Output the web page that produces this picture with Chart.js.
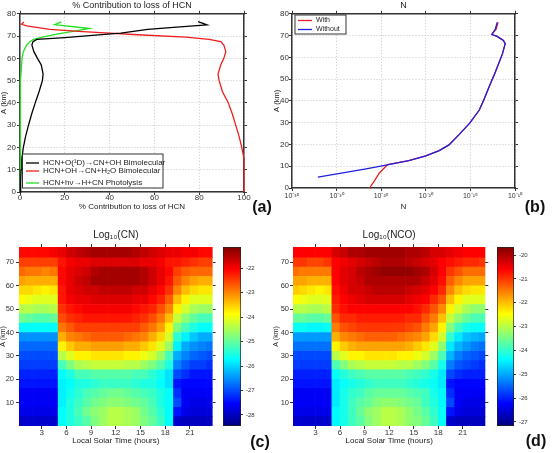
<!DOCTYPE html>
<html>
<head>
<meta charset="utf-8">
<script src="https://cdn.jsdelivr.net/npm/chart.js@4.4.1/dist/chart.umd.min.js"></script>
<style>
  html, body { margin: 0; padding: 0; background: #fff; }
  #wrap { position: relative; width: 553px; height: 453px; overflow: hidden; }
  #wrap canvas { position: absolute; left: 0; top: 0; }
  .tag { position: absolute; transform: translate(-50%, -50%); font: bold 16px "Liberation Sans", Arial, sans-serif; color: #111; }
</style>
</head>
<body>
<div id="wrap">
  <canvas id="chartA" width="553" height="453"></canvas>
  <canvas id="chartB" width="553" height="453"></canvas>
  <canvas id="chartC" width="553" height="453"></canvas>
  <canvas id="barC" width="553" height="453"></canvas>
  <canvas id="chartD" width="553" height="453"></canvas>
  <canvas id="barD" width="553" height="453"></canvas>
  <div class="tag" style="left:262px;top:207px">(a)</div>
  <div class="tag" style="left:535px;top:207px">(b)</div>
  <div class="tag" style="left:260px;top:442px">(c)</div>
  <div class="tag" style="left:536px;top:441px">(d)</div>
</div>
<script>
// (a) % contribution to loss of HCN, by altitude (km)
const o1dAlt = [0, 5, 10, 15, 20, 25, 30, 35, 40, 45, 50, 53, 57, 60, 63, 66, 67.5, 68.5, 69.3, 70.5, 71.3, 73, 74, 75, 76.5];
const o1dPct = [0, 0.3, 0.5, 0.8, 1.5, 2.5, 3.8, 5.2, 6.8, 8.5, 10, 10.3, 9.5, 7.8, 6.2, 5.3, 5.8, 7.5, 20, 35, 45, 57, 70, 83.5, 79.5];
const ohAlt = [0, 5, 10, 15, 20, 25, 30, 35, 40, 45, 50, 53, 57, 60, 63, 66, 67.5, 68.5, 69.5, 70.7, 71.3, 72, 73, 74.6, 75.3, 76.3];
const ohPct = [100, 100, 100, 100, 99, 97.8, 96.3, 94.8, 93, 90.4, 88.9, 88.4, 89.6, 91, 91.9, 91, 89.6, 84.4, 74, 50.4, 40, 28, 13.3, 3, 0.7, 1.8];
const hvAlt = [0, 10, 20, 30, 40, 50, 55, 60, 63, 66, 67.5, 68.5, 69.5, 71, 72.3, 73.4, 75.1, 76.4];
const hvPct = [0, 0, 0, 0.1, 0.2, 0.4, 0.6, 0.9, 1.5, 3, 4.4, 6, 10, 17, 25, 31, 15.5, 18.5];

// (b) N, read as log10(N), by altitude (km)
const withAlt = [0, 3, 6.9, 9.9, 10.7, 12.6, 14.8, 17.2, 19.8, 24.4, 29.7, 35.8, 40.4, 46.5, 53.3, 61.7, 66.3, 67.8, 69.6, 70.5, 73, 76.2];
const withLogN = [-26.3, -25.8, -25.2, -24.5, -24.3, -21.9, -20.0, -18.5, -17.4, -16.3, -15.1, -14.0, -13.5, -12.9, -12.2, -11.4, -11.1, -11.3, -12.0, -12.6, -12.1, -11.9];
const withoutAlt = [5, 6.9, 8.8, 10.2, 12.6, 14.8, 17.2, 19.8, 24.4, 29.7, 35.8, 40.4, 46.5, 53.3, 61.7, 66.3, 67.8, 69.6, 70.5, 73, 76];
const withoutLogN = [-32.1, -29.3, -26.7, -24.9, -21.9, -20.0, -18.5, -17.4, -16.3, -15.1, -14.0, -13.5, -12.9, -12.2, -11.4, -11.1, -11.3, -12.0, -12.6, -12.2, -12.0];

// (c), (d) log10 concentration by local hour (columns) and altitude band (rows, from the ground up)
const hours = [0.5, 1.5, 2.5, 3.5, 4.5, 5.5, 6.5, 7.5, 8.5, 9.5, 10.5, 11.5, 12.5, 13.5, 14.5, 15.5, 16.5, 17.5, 18.5, 19.5, 20.5, 21.5, 22.5, 23.5];
const altEdges = [0, 4, 8, 12, 16, 20, 24, 28, 32, 36, 40, 44, 48, 52, 56, 60, 64, 68, 72, 77];
const cnLog = [
  [-27.9,-27.9,-27.9,-27.9,-27.9,-25.7,-25.5,-25.3,-25.1,-24.8,-24.6,-24.4,-24.4,-24.5,-24.6,-24.8,-25.0,-25.3,-25.7,-27.9,-28.0,-28.0,-28.0,-28.0],
  [-27.7,-27.7,-27.7,-27.7,-27.7,-25.7,-25.5,-25.2,-24.9,-24.7,-24.6,-24.4,-24.4,-24.5,-24.6,-24.9,-25.1,-25.4,-25.7,-27.4,-27.7,-27.8,-27.8,-27.8],
  [-27.6,-27.6,-27.6,-27.6,-27.6,-25.8,-25.5,-25.3,-25.1,-24.9,-24.8,-24.7,-24.7,-24.8,-24.9,-25.0,-25.2,-25.5,-25.7,-27.0,-27.6,-27.7,-27.7,-27.7],
  [-27.6,-27.6,-27.6,-27.6,-27.6,-25.8,-25.6,-25.4,-25.2,-25.1,-25.0,-24.9,-24.9,-25.0,-25.1,-25.2,-25.3,-25.5,-25.7,-27.2,-27.6,-27.6,-27.6,-27.6],
  [-27.4,-27.4,-27.4,-27.4,-27.4,-25.8,-25.7,-25.5,-25.5,-25.4,-25.3,-25.3,-25.3,-25.3,-25.4,-25.5,-25.5,-25.7,-25.9,-27.4,-27.5,-27.5,-27.5,-27.5],
  [-27.3,-27.3,-27.3,-27.3,-27.3,-25.7,-25.5,-25.2,-25.2,-25.1,-25.1,-25.1,-25.1,-25.1,-25.2,-25.2,-25.4,-25.6,-25.9,-27.0,-27.2,-27.4,-27.4,-27.4],
  [-27.1,-27.1,-27.1,-27.1,-27.1,-25.2,-24.8,-24.5,-24.4,-24.3,-24.3,-24.3,-24.3,-24.4,-24.4,-24.6,-24.8,-25.1,-25.5,-26.6,-26.9,-27.1,-27.1,-27.2],
  [-27.0,-27.0,-27.0,-27.0,-27.0,-24.4,-24.1,-23.8,-23.8,-23.7,-23.7,-23.7,-23.7,-23.8,-23.8,-24.0,-24.2,-24.6,-25.2,-26.3,-26.6,-26.8,-26.9,-27.0],
  [-26.8,-26.8,-26.8,-26.8,-26.8,-23.8,-23.5,-23.3,-23.3,-23.2,-23.2,-23.2,-23.2,-23.3,-23.3,-23.5,-23.7,-24.1,-24.6,-25.8,-26.3,-26.5,-26.6,-26.7],
  [-26.5,-26.5,-26.5,-26.5,-26.5,-23.3,-23.0,-22.9,-22.8,-22.7,-22.7,-22.7,-22.7,-22.8,-22.9,-23.0,-23.3,-23.6,-24.2,-25.4,-25.8,-26.1,-26.3,-26.3],
  [-25.7,-25.7,-25.7,-25.7,-25.7,-22.9,-22.7,-22.5,-22.5,-22.5,-22.5,-22.5,-22.5,-22.5,-22.5,-22.7,-22.9,-23.2,-23.8,-24.8,-25.2,-25.5,-25.7,-25.7],
  [-24.9,-25.0,-25.1,-25.1,-25.0,-22.6,-22.4,-22.3,-22.2,-22.2,-22.2,-22.2,-22.2,-22.2,-22.3,-22.4,-22.6,-22.9,-23.4,-24.3,-24.7,-25.0,-25.2,-25.2],
  [-24.4,-24.4,-24.5,-24.5,-24.4,-22.4,-22.2,-22.1,-22.0,-22.0,-22.0,-22.0,-22.0,-22.0,-22.1,-22.2,-22.3,-22.6,-23.0,-23.8,-24.2,-24.5,-24.6,-24.6],
  [-23.9,-24.0,-24.1,-24.1,-24.1,-22.2,-22.0,-21.9,-21.9,-21.8,-21.8,-21.8,-21.8,-21.8,-21.9,-21.9,-22.1,-22.3,-22.7,-23.4,-23.8,-24.1,-24.1,-24.1],
  [-23.6,-23.6,-23.7,-23.8,-23.7,-22.2,-21.9,-21.8,-21.7,-21.7,-21.6,-21.6,-21.6,-21.6,-21.7,-21.7,-21.9,-22.1,-22.4,-23.0,-23.4,-23.6,-23.7,-23.7],
  [-23.2,-23.3,-23.3,-23.3,-23.3,-22.1,-21.9,-21.7,-21.6,-21.4,-21.4,-21.4,-21.4,-21.4,-21.4,-21.5,-21.7,-21.9,-22.2,-22.7,-23.0,-23.2,-23.3,-23.3],
  [-22.8,-22.9,-22.9,-23.0,-22.9,-22.1,-21.9,-21.8,-21.7,-21.5,-21.4,-21.4,-21.4,-21.4,-21.4,-21.5,-21.7,-21.9,-22.1,-22.5,-22.7,-22.8,-22.8,-22.8],
  [-22.5,-22.5,-22.5,-22.5,-22.5,-22.2,-22.0,-21.9,-21.9,-21.8,-21.8,-21.8,-21.8,-21.8,-21.8,-21.9,-21.9,-22.0,-22.2,-22.2,-22.3,-22.4,-22.5,-22.5],
  [-22.1,-22.1,-22.1,-22.1,-22.0,-21.9,-21.7,-21.6,-21.5,-21.4,-21.4,-21.4,-21.4,-21.4,-21.5,-21.6,-21.7,-21.8,-21.9,-21.9,-22.0,-22.0,-22.1,-22.1]
];
const ncoLog = [
  [-26.6,-26.6,-26.6,-26.6,-26.6,-24.4,-24.2,-23.9,-23.7,-23.4,-23.2,-23.0,-23.0,-23.1,-23.3,-23.4,-23.6,-23.9,-24.3,-26.6,-26.7,-26.7,-26.7,-26.7],
  [-26.4,-26.4,-26.4,-26.4,-26.4,-24.4,-24.2,-23.9,-23.6,-23.3,-23.2,-23.0,-23.0,-23.1,-23.3,-23.5,-23.7,-24.0,-24.3,-26.1,-26.4,-26.5,-26.5,-26.5],
  [-26.3,-26.3,-26.3,-26.3,-26.3,-24.5,-24.2,-23.9,-23.7,-23.6,-23.4,-23.3,-23.3,-23.4,-23.5,-23.6,-23.9,-24.1,-24.4,-25.7,-26.3,-26.4,-26.4,-26.4],
  [-26.3,-26.3,-26.3,-26.3,-26.3,-24.5,-24.2,-24.0,-23.9,-23.7,-23.6,-23.6,-23.6,-23.6,-23.7,-23.8,-23.9,-24.2,-24.4,-25.9,-26.3,-26.3,-26.3,-26.3],
  [-26.1,-26.1,-26.1,-26.1,-26.1,-24.5,-24.3,-24.2,-24.1,-24.0,-23.9,-23.9,-23.9,-23.9,-24.0,-24.1,-24.2,-24.3,-24.5,-26.1,-26.2,-26.2,-26.2,-26.2],
  [-26.0,-26.0,-26.0,-26.0,-26.0,-24.3,-24.1,-23.9,-23.8,-23.7,-23.7,-23.7,-23.7,-23.7,-23.8,-23.9,-24.0,-24.2,-24.5,-25.7,-25.9,-26.0,-26.0,-26.0],
  [-25.8,-25.8,-25.8,-25.8,-25.8,-23.8,-23.4,-23.1,-23.0,-22.9,-22.9,-22.9,-22.9,-23.0,-23.0,-23.2,-23.4,-23.7,-24.2,-25.3,-25.6,-25.7,-25.8,-25.9],
  [-25.7,-25.7,-25.7,-25.7,-25.7,-23.0,-22.7,-22.4,-22.4,-22.3,-22.3,-22.3,-22.3,-22.4,-22.4,-22.6,-22.8,-23.2,-23.8,-24.9,-25.3,-25.5,-25.6,-25.7],
  [-25.4,-25.4,-25.4,-25.4,-25.4,-22.4,-22.1,-21.9,-21.8,-21.8,-21.8,-21.8,-21.8,-21.8,-21.9,-22.1,-22.3,-22.7,-23.3,-24.5,-24.9,-25.1,-25.3,-25.4],
  [-25.1,-25.1,-25.1,-25.1,-25.1,-21.9,-21.6,-21.5,-21.4,-21.3,-21.3,-21.3,-21.3,-21.4,-21.5,-21.6,-21.8,-22.2,-22.8,-24.0,-24.5,-24.8,-24.9,-25.0],
  [-24.3,-24.3,-24.4,-24.4,-24.3,-21.5,-21.2,-21.1,-21.0,-21.0,-21.0,-21.0,-21.0,-21.0,-21.1,-21.2,-21.5,-21.8,-22.4,-23.4,-23.9,-24.2,-24.3,-24.3],
  [-23.6,-23.6,-23.7,-23.7,-23.6,-21.2,-20.9,-20.9,-20.8,-20.8,-20.8,-20.8,-20.8,-20.8,-20.9,-20.9,-21.2,-21.5,-22.0,-22.9,-23.3,-23.6,-23.8,-23.8],
  [-23.0,-23.0,-23.1,-23.1,-23.0,-20.9,-20.7,-20.6,-20.6,-20.6,-20.6,-20.6,-20.6,-20.6,-20.6,-20.7,-20.9,-21.2,-21.6,-22.4,-22.8,-23.1,-23.3,-23.3],
  [-22.5,-22.6,-22.7,-22.7,-22.7,-20.8,-20.6,-20.5,-20.4,-20.3,-20.3,-20.3,-20.3,-20.3,-20.4,-20.5,-20.6,-20.9,-21.2,-22.0,-22.4,-22.7,-22.7,-22.7],
  [-22.1,-22.2,-22.3,-22.4,-22.3,-20.7,-20.5,-20.3,-20.3,-20.2,-20.1,-20.1,-20.1,-20.1,-20.2,-20.3,-20.4,-20.6,-20.9,-21.6,-22.0,-22.2,-22.3,-22.3],
  [-21.8,-21.8,-21.9,-21.9,-21.9,-20.6,-20.4,-20.3,-20.2,-20.0,-20.0,-20.0,-20.0,-20.0,-20.0,-20.0,-20.2,-20.4,-20.7,-21.3,-21.6,-21.8,-21.8,-21.8],
  [-21.4,-21.5,-21.5,-21.5,-21.5,-20.6,-20.4,-20.3,-20.1,-20.0,-19.9,-19.8,-19.8,-19.8,-19.8,-19.9,-20.0,-20.3,-20.6,-21.0,-21.2,-21.4,-21.4,-21.4],
  [-21.0,-21.0,-21.1,-21.1,-21.0,-20.6,-20.5,-20.4,-20.3,-20.2,-20.1,-20.0,-20.0,-20.0,-20.1,-20.2,-20.3,-20.4,-20.6,-20.7,-20.8,-20.9,-20.9,-21.0],
  [-20.6,-20.6,-20.6,-20.6,-20.6,-20.3,-20.2,-20.0,-20.0,-19.9,-19.9,-19.9,-19.9,-19.9,-20.0,-20.0,-20.1,-20.3,-20.3,-20.4,-20.5,-20.6,-20.6,-20.6]
];
const cnRange = [-28.45, -21.14];
const ncoRange = [-27.17, -19.66];

// tick values
const pctTicks = [0, 20, 40, 60, 80, 100];
const altTicks = [0, 10, 20, 30, 40, 50, 60, 70, 80];
const nTicks = [1e-35, 1e-30, 1e-25, 1e-20, 1e-15, 1e-10];
const hourTicks = [3, 6, 9, 12, 15, 18, 21];
const mapAltTicks = [10, 20, 30, 40, 50, 60, 70];
const cnBarTicks = [-22, -23, -24, -25, -26, -27, -28];
const ncoBarTicks = [-20, -21, -22, -23, -24, -25, -26, -27];

const FONT = '"Liberation Sans", Arial, Helvetica, sans-serif';
Chart.defaults.font.family = FONT;
Chart.defaults.color = '#222';
Chart.defaults.animation = false;
Chart.defaults.responsive = false;
Chart.defaults.events = [];
Chart.defaults.plugins.legend.display = false;
Chart.defaults.plugins.tooltip.enabled = false;

const fixTicks = list => axis => { axis.ticks = list.map(value => ({ value })); };
const fixWidth = w => axis => { axis.width = w; };
const fixHeight = h => axis => { axis.height = h; };
const pts = (xs, ys) => xs.map((x, i) => ({ x, y: ys[i] }));
const line = (label, xs, ys, color, order) => ({
  label, data: pts(xs, ys), borderColor: color, backgroundColor: color,
  showLine: true, pointRadius: 0, borderWidth: 1.3, order, clip: 2
});

const SUP = { '-': '\u207b', '0': '\u2070', '1': '\u00b9', '2': '\u00b2', '3': '\u00b3', '4': '\u2074', '5': '\u2075', '6': '\u2076', '7': '\u2077', '8': '\u2078', '9': '\u2079' };
const pow10 = v => '10' + String(Math.round(Math.log10(v))).split('').map(c => SUP[c]).join('');

function jet(t) {
  t = Math.max(0, Math.min(1, t));
  const f = c => Math.round(255 * Math.max(0, Math.min(1, 1.5 - Math.abs(4 * t - c))));
  return 'rgb(' + f(3) + ',' + f(2) + ',' + f(1) + ')';
}

// legend box drawn inside the plot
const boxLegend = {
  id: 'boxLegend',
  afterDraw(chart, args, o) {
    if (!o || !o.box) return;
    const ctx = chart.ctx;
    const [x, y, w, h] = o.box;
    ctx.save();
    ctx.fillStyle = '#fff';
    ctx.fillRect(x, y, w, h);
    ctx.lineWidth = 1;
    ctx.strokeStyle = '#333';
    ctx.strokeRect(x, y, w, h);
    ctx.font = o.size + 'px ' + FONT;
    ctx.textBaseline = 'middle';
    chart.data.datasets.forEach((ds, i) => {
      const ry = o.rows[i];
      ctx.strokeStyle = ds.borderColor;
      ctx.lineWidth = 1.3;
      ctx.beginPath();
      ctx.moveTo(o.line[0], ry);
      ctx.lineTo(o.line[1], ry);
      ctx.stroke();
      ctx.fillStyle = '#222';
      ctx.fillText(ds.label, o.textX, ry);
    });
    ctx.restore();
  }
};

const titleFont = { size: 9, weight: 'normal', lineHeight: 1.2 };

function frameAxes(c) {
  const grid = { color: '#c8c8c8', tickColor: '#333', tickLength: 3 };
  const border = { color: '#333', width: 1.5, dash: [1, 2] };
  const side = { drawOnChartArea: false, tickColor: '#333', tickLength: 3 };
  const xTicks = { font: { size: c.xFontSize, lineHeight: 1 }, color: '#333', padding: c.xPad, autoSkip: false, maxRotation: 0 };
  if (c.xFormat) xTicks.callback = c.xFormat;
  return {
    x: { type: c.xType, min: c.xRange[0], max: c.xRange[1], afterBuildTicks: fixTicks(c.xTicks), afterFit: fixHeight(c.xHeight),
      grid, border, ticks: xTicks,
      title: { display: true, text: c.xTitle, font: { size: 8 }, color: '#222', padding: 0 } },
    x2: { type: c.xType, position: 'top', min: c.xRange[0], max: c.xRange[1], afterBuildTicks: fixTicks(c.xTicks), afterFit: fixHeight(3),
      grid: side, border: { color: '#333', width: 1.5 }, ticks: { display: false } },
    y: { type: 'linear', min: 0, max: 80, afterBuildTicks: fixTicks(altTicks), afterFit: fixWidth(c.yWidth),
      grid, border, ticks: { font: { size: 8 }, color: '#333', padding: c.yPad },
      title: { display: true, text: 'A (km)', font: { size: 7.5, lineHeight: 1 }, color: '#222', padding: 0 } },
    y2: { type: 'linear', position: 'right', min: 0, max: 80, afterBuildTicks: fixTicks(altTicks), afterFit: fixWidth(3),
      grid: side, border: { color: '#333', width: 1.5 }, ticks: { display: false } }
  };
}

// (a)
new Chart(document.getElementById('chartA'), {
  type: 'scatter',
  data: { datasets: [
    line('HCN+O(\u00b9D)\u2192CN+OH Bimolecular', o1dPct, o1dAlt, '#000000', 1),
    line('HCN+OH\u2192CN+H\u2082O Bimolecular', ohPct, ohAlt, '#ee1d1d', 2),
    line('HCN+h\u03bd\u2192H+CN Photolysis', hvPct, hvAlt, '#22e022', 3)
  ] },
  options: {
    layout: { padding: { left: 0, top: 0, right: 306, bottom: 241 } },
    plugins: {
      title: { display: true, text: '% Contribution to loss of HCN', fullSize: false, font: titleFont, color: '#222', padding: 0 },
      boxLegend: { box: [22.5, 154, 140.5, 34], rows: [163, 171, 183], line: [26, 39], textX: 43, size: 8 }
    },
    scales: frameAxes({ xType: 'linear', xRange: [0, 100], xTicks: pctTicks, xHeight: 20, xFontSize: 8, xPad: -1,
      xTitle: '% Contribution to loss of HCN', yWidth: 20, yPad: 1 })
  },
  plugins: [boxLegend]
});

// (b)
new Chart(document.getElementById('chartB'), {
  type: 'scatter',
  data: { datasets: [
    line('With', withLogN.map(v => 10 ** v), withAlt, '#ee1d1d', 2),
    line('Without', withoutLogN.map(v => 10 ** v), withoutAlt, '#2020e0', 1)
  ] },
  options: {
    layout: { padding: { left: 273, top: 0, right: 35, bottom: 241 } },
    plugins: {
      title: { display: true, text: 'N', fullSize: false, font: titleFont, color: '#222', padding: 0 },
      boxLegend: { box: [295, 15, 51, 19], rows: [20.5, 29.5], line: [298, 312], textX: 316, size: 7 }
    },
    scales: frameAxes({ xType: 'logarithmic', xRange: [1e-35, 1e-10], xTicks: nTicks, xHeight: 24, xFontSize: 7, xPad: 2,
      xFormat: pow10, xTitle: 'N', yWidth: 19, yPad: 0 })
  },
  plugins: [boxLegend]
});

// (c), (d) maps drawn as floating bars, one dataset per altitude band
function heatDatasets(grid, range) {
  return grid.map((row, r) => ({
    data: hours.map(h => ({ x: h, y: [altEdges[r], altEdges[r + 1]] })),
    backgroundColor: row.map(v => jet((v - range[0]) / (range[1] - range[0])))
  }));
}

function mapAxes(yWidth, yPad) {
  const marks = { drawOnChartArea: false, offset: false, tickColor: '#333', tickLength: 3 };
  const hidden = { display: false };
  const hx = { type: 'linear', min: 0.25, max: 23.75, offset: false, afterBuildTicks: fixTicks(hourTicks) };
  const hy = { type: 'linear', min: 0, max: 76.6, afterBuildTicks: fixTicks(mapAltTicks) };
  return {
    x: Object.assign({}, hx, { afterFit: fixHeight(20), grid: marks, border: hidden,
      ticks: { font: { size: 8, lineHeight: 1 }, color: '#333', padding: 0, maxRotation: 0, autoSkip: false },
      title: { display: true, text: 'Local Solar Time (hours)', font: { size: 8 }, color: '#222', padding: 0 } }),
    x2: Object.assign({}, hx, { position: 'top', afterFit: fixHeight(3), grid: marks, border: hidden, ticks: { display: false } }),
    y: Object.assign({}, hy, { afterFit: fixWidth(yWidth), grid: marks, border: hidden,
      ticks: { font: { size: 7.5 }, color: '#333', padding: yPad },
      title: { display: true, text: 'A (km)', font: { size: 7, lineHeight: 1 }, color: '#222', padding: 0 } }),
    y2: Object.assign({}, hy, { position: 'right', afterFit: fixWidth(3), grid: marks, border: hidden, ticks: { display: false } })
  };
}

function heatMap(id, title, grid, range, pad, yWidth, yPad) {
  new Chart(document.getElementById(id), {
    type: 'bar',
    data: { datasets: heatDatasets(grid, range) },
    options: {
      layout: { padding: pad },
      datasets: { bar: { grouped: false, barPercentage: 1, categoryPercentage: 1, borderWidth: 0 } },
      plugins: {
        title: { display: true, text: title, fullSize: false, font: { size: 10, weight: 'normal', lineHeight: 1.1 }, color: '#222', padding: { top: 0, bottom: 3.5 } }
      },
      scales: mapAxes(yWidth, yPad)
    }
  });
}

function jetGradient(chart, range) {
  const y = chart.scales.y;
  if (!y || !chart.chartArea) return 'rgba(0,0,0,0)';
  const y0 = y.getPixelForValue(range[0]);
  const y1 = y.getPixelForValue(range[1]);
  if (!isFinite(y0) || !isFinite(y1) || y0 === y1) return 'rgba(0,0,0,0)';
  const g = chart.ctx.createLinearGradient(0, y0, 0, y1);
  for (let i = 0; i <= 8; i++) g.addColorStop(i / 8, jet(i / 8));
  return g;
}

function colorBar(id, range, ticks, pad) {
  new Chart(document.getElementById(id), {
    type: 'bar',
    data: { labels: [''], datasets: [{
      data: [range], backgroundColor: c => jetGradient(c.chart, range),
      borderColor: '#222', borderWidth: 1, borderSkipped: false, barPercentage: 1, categoryPercentage: 1
    }] },
    options: {
      layout: { padding: pad },
      scales: {
        x: { display: false },
        y: { position: 'right', min: range[0], max: range[1], afterBuildTicks: fixTicks(ticks), afterFit: fixWidth(16),
          grid: { drawOnChartArea: false, tickColor: '#333', tickLength: 2 }, border: { display: false },
          ticks: { font: { size: 6 }, color: '#333', padding: 3 } }
      }
    }
  });
}

heatMap('chartC', 'Log\u2081\u2080(CN)', cnLog, cnRange, { left: 0, top: 229.5, right: 337.4, bottom: 7 }, 19, 2);
colorBar('barC', cnRange, cnBarTicks, { left: 223, top: 247, right: 296, bottom: 27 });
heatMap('chartD', 'Log\u2081\u2080(NCO)', ncoLog, ncoRange, { left: 273, top: 229.5, right: 64.7, bottom: 7 }, 20, 1);
colorBar('barD', ncoRange, ncoBarTicks, { left: 497, top: 247, right: 23, bottom: 27 });
</script>
</body>
</html>
